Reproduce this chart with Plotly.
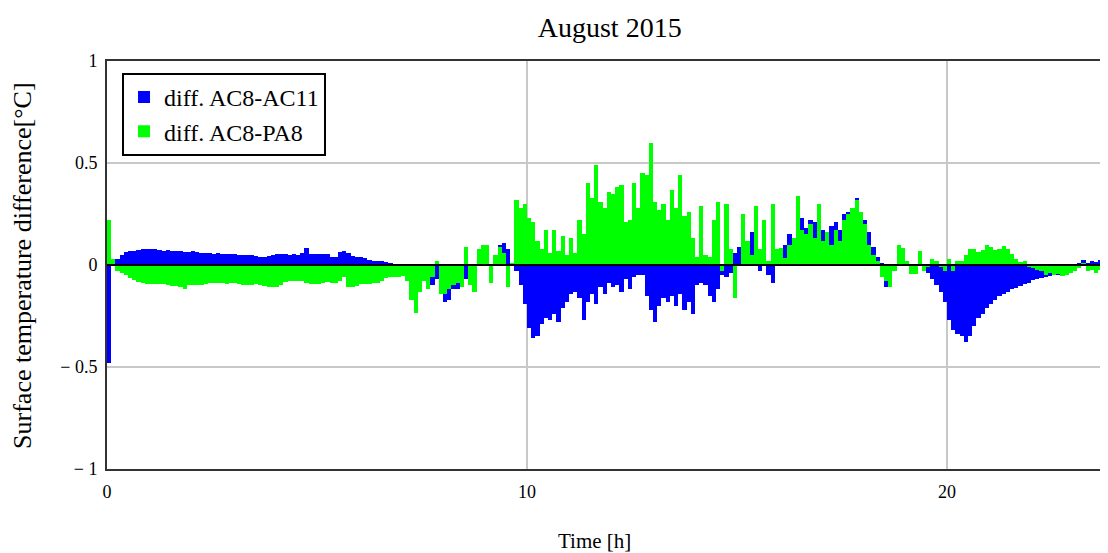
import plotly.graph_objects as go

# Time axis: samples every 0.1 h
n_samples = 240
time_h = [round(i * 0.1, 1) for i in range(n_samples)]

# diff. AC8-AC11 (0.1 h steps)
diff_ac8_ac11 = [
    # 0 h
    -0.48, 0.005, 0.03, 0.05, 0.065, 0.07, 0.07, 0.075, 0.078, 0.078,
    # 1 h
    0.078, 0.078, 0.075, 0.07, 0.072, 0.07, 0.068, 0.07, 0.065, 0.065,
    # 2 h
    0.068, 0.065, 0.06, 0.058, 0.06, 0.055, 0.058, 0.055, 0.052, 0.055,
    # 3 h
    0.052, 0.05, 0.05, 0.048, 0.05, 0.045, 0.04, 0.04, 0.042, 0.05,
    # 4 h
    0.055, 0.055, 0.052, 0.05, 0.055, 0.05, 0.058, 0.085, 0.055, 0.055,
    # 5 h
    0.055, 0.052, 0.055, 0.04, 0.04, 0.065, 0.068, 0.06, 0.045, 0.04,
    # 6 h
    0.04, 0.035, 0.025, 0.02, 0.02, 0.018, 0.015, 0.01, 0.0, 0.0,
    # 7 h
    0.0, 0.0, 0.0, 0.0, -0.02, -0.06, -0.08, -0.1, -0.07, -0.12,
    # 8 h
    -0.18, -0.17, -0.12, -0.12, -0.09, -0.07, -0.05, -0.02, 0.04, 0.05,
    # 9 h
    0.06, 0.0, 0.02, 0.1, 0.11, 0.08, 0.0, -0.03, -0.1, -0.19,
    # 10 h
    -0.31, -0.36, -0.35, -0.29, -0.26, -0.27, -0.24, -0.28, -0.21, -0.18,
    # 11 h
    -0.14, -0.13, -0.16, -0.27, -0.18, -0.14, -0.19, -0.11, -0.14, -0.09,
    # 12 h
    -0.11, -0.1, -0.13, -0.07, -0.12, -0.06, -0.05, -0.05, -0.15, -0.22,
    # 13 h
    -0.28, -0.2, -0.16, -0.18, -0.15, -0.2, -0.14, -0.22, -0.18, -0.24,
    # 14 h
    -0.1, -0.09, -0.1, -0.15, -0.18, -0.12, -0.05, -0.06, -0.04, 0.06,
    # 15 h
    0.09, 0.05, 0.03, 0.16, 0.05, -0.03, 0.04, -0.05, -0.09, 0.06,
    # 16 h
    0.06, 0.1, 0.15, 0.12, 0.19, 0.23, 0.18, 0.22, 0.21, 0.2,
    # 17 h
    0.17, 0.15, 0.19, 0.21, 0.17, 0.25, 0.26, 0.25, 0.33, 0.25,
    # 18 h
    0.22, 0.16, 0.09, 0.04, 0.01, -0.11, -0.06, -0.02, 0.0, 0.0,
    # 19 h
    0.0, -0.02, 0.0, 0.01, 0.0, -0.04, -0.07, -0.1, -0.13, -0.18,
    # 20 h
    -0.27, -0.32, -0.34, -0.35, -0.375, -0.35, -0.3, -0.26, -0.24, -0.21,
    # 21 h
    -0.19, -0.17, -0.15, -0.14, -0.13, -0.12, -0.115, -0.105, -0.095, -0.09,
    # 22 h
    -0.075, -0.07, -0.065, -0.06, -0.055, -0.05, -0.05, -0.04, -0.01, 0.0,
    # 23 h
    0.0, 0.01, 0.025, 0.01, 0.02, 0.015, 0.025, 0.02, 0.03, 0.02,
]

# diff. AC8-PA8 (0.1 h steps)
diff_ac8_pa8 = [
    # 0 h
    0.22, 0.03, -0.03, -0.04, -0.05, -0.065, -0.075, -0.085, -0.09, -0.093,
    # 1 h
    -0.093, -0.092, -0.095, -0.093, -0.1, -0.105, -0.105, -0.108, -0.118, -0.1,
    # 2 h
    -0.1, -0.098, -0.1, -0.095, -0.09, -0.088, -0.09, -0.09, -0.092, -0.088,
    # 3 h
    -0.09, -0.095, -0.1, -0.1, -0.098, -0.095, -0.1, -0.105, -0.11, -0.108,
    # 4 h
    -0.11, -0.1, -0.085, -0.08, -0.078, -0.077, -0.08, -0.09, -0.093, -0.095,
    # 5 h
    -0.093, -0.09, -0.085, -0.088, -0.09, -0.08, -0.06, -0.11, -0.11, -0.105,
    # 6 h
    -0.095, -0.095, -0.095, -0.09, -0.09, -0.08, -0.065, -0.06, -0.06, -0.058,
    # 7 h
    -0.055, -0.08, -0.17, -0.235, -0.13, -0.08, -0.12, -0.06, 0.02, -0.14,
    # 8 h
    -0.14, -0.12, -0.1, -0.09, -0.11, 0.09, -0.1, -0.13, 0.08, 0.1,
    # 9 h
    0.1, -0.09, 0.05, 0.09, 0.06, -0.11, 0.01, 0.32, 0.28, 0.3,
    # 10 h
    0.23, 0.21, 0.12, 0.08, 0.17, 0.06, 0.17, 0.07, 0.14, 0.05,
    # 11 h
    0.13, 0.06, 0.22, 0.15, 0.4, 0.33, 0.49, 0.31, 0.28, 0.36,
    # 12 h
    0.35, 0.38, 0.39, 0.21, 0.22, 0.4, 0.28, 0.45, 0.44, 0.6,
    # 13 h
    0.31, 0.27, 0.3, 0.22, 0.37, 0.28, 0.44, 0.24, 0.26, 0.13,
    # 14 h
    0.04, 0.29, 0.05, 0.04, 0.22, 0.31, -0.03, 0.3, 0.08, -0.16,
    # 15 h
    0.0, 0.25, 0.12, 0.05, 0.29, 0.08, 0.22, 0.02, 0.3, 0.08,
    # 16 h
    0.085, 0.035, 0.1, 0.13, 0.34, 0.17, 0.15, 0.2, 0.13, 0.3,
    # 17 h
    0.12, 0.16, 0.1, 0.17, 0.12, 0.22, 0.25, 0.28, 0.32, 0.26,
    # 18 h
    0.2, 0.1, 0.05, 0.02, -0.06, -0.08, -0.11, -0.03, 0.1, 0.085,
    # 19 h
    0.02, -0.045, -0.045, 0.07, -0.03, -0.01, 0.03, 0.02, -0.01, -0.03,
    # 20 h
    0.03, -0.03, 0.02, 0.02, 0.05, 0.08, 0.08, 0.065, 0.075, 0.1,
    # 21 h
    0.09, 0.075, 0.08, 0.095, 0.08, 0.055, 0.03, 0.015, 0.02, -0.01,
    # 22 h
    -0.015, -0.025, -0.03, -0.05, -0.04, -0.05, -0.045, -0.055, -0.05, -0.04,
    # 23 h
    -0.03, -0.015, 0.01, -0.03, -0.025, -0.04, -0.025, -0.04, -0.015, -0.02,
]

series_names = ["diff. AC8-AC11", "diff. AC8-PA8"]
series_colors = ["#0000ff", "#00ff00"]

y_tick_vals = [-1, -0.5, 0, 0.5, 1]
y_tick_text = ["\u2212 1", "\u2212 0.5", "0", "0.5", "1"]
x_tick_vals = [0, 10, 20]
x_tick_text = ["0", "10", "20"]

FONT = "Liberation Serif, Times New Roman, serif"

fig = go.Figure()
for name, vals, col in zip(series_names, [diff_ac8_ac11, diff_ac8_pa8], series_colors):
    fig.add_trace(go.Bar(
        x=time_h, y=vals, name=name,
        width=0.1, offset=0,
        marker=dict(color=col, line=dict(width=0)),
    ))

fig.add_shape(type="line", xref="paper", yref="y", x0=0, x1=1, y0=0, y1=0,
              line=dict(color="black", width=2), layer="above")

# page body has an 8px margin, so the figure is 8px smaller and shifted
fig.update_layout(
    width=1100, height=545,
    margin=dict(l=99, r=0, t=53, b=84),
    paper_bgcolor="white", plot_bgcolor="white",
    barmode="overlay", bargap=0,
    font=dict(family=FONT, color="black", size=17),
    title=dict(text="August 2015", x=0.547, xanchor="center",
               y=0.965, yanchor="middle", yref="container",
               font=dict(family=FONT, size=28, color="black")),
    showlegend=True,
    legend=dict(x=0.015, y=0.971, xanchor="left", yanchor="top",
                bgcolor="white", bordercolor="black", borderwidth=2,
                font=dict(family=FONT, size=24, color="black"),
                itemsizing="constant", tracegroupgap=0),
    xaxis=dict(range=[0, 1001 / 42.0], tickvals=x_tick_vals, ticktext=x_tick_text,
               showgrid=True, gridcolor="#c8c8c8", gridwidth=1.5,
               showline=True, linecolor="#333333", linewidth=2, mirror=True,
               zeroline=False, ticks="", ticklabelstandoff=5,
               tickfont=dict(family=FONT, size=18, color="black")),
    yaxis=dict(range=[-1, 1], tickvals=y_tick_vals, ticktext=y_tick_text,
               showgrid=True, gridcolor="#c8c8c8", gridwidth=1.5,
               showline=True, linecolor="#333333", linewidth=2, mirror=False,
               zeroline=False, ticks="", ticklabelstandoff=4,
               tickfont=dict(family=FONT, size=18, color="black")),
    annotations=[
        dict(text="Time [h]", xref="paper", yref="paper", x=0.487, y=-0.176,
             xanchor="center", yanchor="middle", showarrow=False,
             font=dict(family=FONT, size=21, color="black")),
        dict(text="Surface temperature difference[\u00b0C]", xref="paper", yref="paper",
             x=-0.085, y=0.5, xanchor="center", yanchor="middle", textangle=-90,
             showarrow=False, font=dict(family=FONT, size=26, color="black")),
    ],
)

fig.write_html("out.html")
